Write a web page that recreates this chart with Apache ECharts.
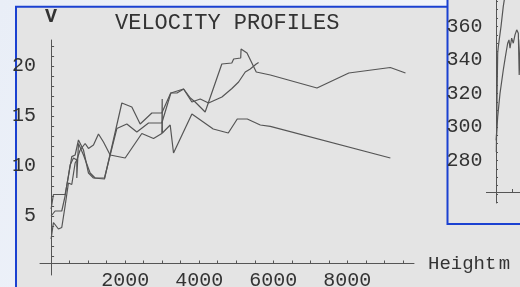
<!DOCTYPE html>
<html>
<head>
<meta charset="utf-8">
<script src="https://cdn.jsdelivr.net/npm/echarts@6/dist/echarts.min.js"></script>
<style>
  html, body { margin: 0; padding: 0; }
  #chart { width: 520px; height: 287px; }
</style>
</head>
<body>
<div id="chart"></div>
<script>
// velocity profiles: [height m, V]
const profileA = [[0, 5.7], [63, 7.15], [378, 7.15], [468, 8.96], [558, 10.94], [649, 11.1], [739, 12.6],
  [874, 11.6], [1009, 9.3], [1144, 8.8], [1441, 8.7], [1910, 16.3], [2180, 15.9], [2405, 14.2], [2721, 15.3],
  [2990, 15.3], [3230, 17.3], [3400, 17.3], [3580, 17.7], [3760, 16.8], [3890, 16.4], [4160, 15.4],
  [4610, 20.2], [4880, 20.3], [4930, 20.7], [5120, 20.8], [5130, 21.7], [5290, 21.3], [5540, 19.4],
  [5920, 19.1], [7180, 17.8], [8040, 19.3], [9160, 19.85], [9570, 19.3]];
const profileB = [[0, 5.0], [108, 5.5], [288, 5.5], [378, 7.0], [513, 10.1], [604, 10.8], [694, 10.6],
  [694, 8.8], [739, 12.25], [874, 11.1], [1054, 9.3], [1189, 8.8], [1441, 8.8], [1595, 11.1], [1775, 13.75],
  [2045, 14.2], [2315, 13.4], [2631, 14.3], [2990, 14.3], [3234, 17.3], [3576, 17.7], [3802, 16.4],
  [4027, 16.7], [4252, 16.3], [4613, 16.9], [4883, 17.75], [5063, 18.4], [5243, 19.4], [5378, 19.7],
  [5540, 20.2], [5603, 20.35]];
const profileC = [[0, 2.7], [63, 4.35], [198, 3.7], [288, 3.85], [378, 6.0], [468, 8.3], [558, 8.15],
  [649, 10.3], [694, 10.6], [784, 11.6], [919, 12.25], [1009, 11.76], [1144, 12.1], [1279, 13.2],
  [1414, 12.4], [1595, 11.1], [2000, 10.8], [2450, 13.25], [2766, 12.75], [2990, 13.25], [3000, 16.7],
  [3005, 13.3], [3216, 14.1], [3306, 11.3], [3802, 15.2], [4378, 13.7], [4784, 13.3], [5027, 14.7],
  [5297, 14.7], [5649, 14.1], [5919, 13.96], [9162, 10.8]];

// inset (partly hidden on the right)
const insetA = [[40, 285], [125, 316], [210, 344], [290, 348], [625, 360], [910, 372], [1040, 376], [1250, 386]];
const insetB = [[20, 292], [210, 306], [500, 320], [910, 334], [1210, 343], [1460, 350], [1625, 352],
  [1750, 347], [1960, 353], [2160, 350], [2375, 355], [2590, 358], [2790, 356], [2900, 331], [3050, 352], [3300, 356]];

const xTicks = [500, 1000, 1500, 2000, 2500, 3000, 3500, 4000, 4500, 5000, 5500, 6000, 6500, 7000, 7500,
  8000, 8500, 9000, 9500];
const xLabels = [2000, 4000, 6000, 8000];
const yTicks = [1, 2, 3, 4, 5, 6, 7, 8, 9, 10, 11, 12, 13, 14, 15, 16, 17, 18, 19, 20, 21, 22];
const yLabels = [5, 10, 15, 20];
const insetXTicks = [2000, 4000, 6000, 8000];
const insetYTicks = [255, 260, 265, 270, 275, 280, 285, 290, 295, 300, 305, 310, 315, 320, 325, 330, 335,
  340, 345, 350, 355, 360, 365, 370, 375, 380, 385, 390, 395];
const insetYLabels = [280, 300, 320, 340, 360];

const FONT = '"Liberation Mono", "DejaVu Sans Mono", monospace';
const INK = '#333';
const AXIS = '#555';
const LINE = '#555';
const PANEL = '#e4e4e4';
const BLUE = '#1b41d1';

const plain = (v) => String(v); // no thousands separator

const chart = echarts.init(document.getElementById('chart'), null, { renderer: 'canvas' });

const lineSeries = (data, xi) => ({
  type: 'line', data, xAxisIndex: xi, yAxisIndex: xi,
  showSymbol: false, symbol: 'none', animation: false, silent: true,
  lineStyle: { color: LINE, width: 1.2 }
});

chart.setOption({
  animation: false,
  backgroundColor: {
    type: 'linear', x: 0, y: 0, x2: 1, y2: 1,
    colorStops: [{ offset: 0, color: '#e9eef7' }, { offset: 1, color: '#f4f7fc' }]
  },
  graphic: [
    { type: 'rect', z: -10, silent: true, shape: { x: 16, y: 6.7, width: 600, height: 400 },
      style: { fill: PANEL, stroke: BLUE, lineWidth: 2 } },
    { type: 'rect', z: -9, silent: true, shape: { x: 447.5, y: -40, width: 150, height: 264 },
      style: { fill: PANEL, stroke: BLUE, lineWidth: 2 } }
  ],
  title: {
    text: 'VELOCITY PROFILES', left: 110, top: 7,
    textStyle: { fontFamily: FONT, fontSize: 22, fontWeight: 'normal', color: INK }
  },
  grid: [
    { left: 40, top: 40, width: 374, height: 235, outerBoundsMode: 'none', containLabel: false },
    { left: 486.4, top: -40.5, width: 89.6, height: 243.5, outerBoundsMode: 'none', containLabel: false }
  ],
  xAxis: [
    {
      type: 'value', gridIndex: 0, min: -300, max: 9800,
      position: 'bottom', offset: -11.5,
      axisLine: { onZero: false, lineStyle: { color: AXIS, width: 1 } },
      axisTick: { inside: true, length: 3, customValues: xTicks, lineStyle: { color: AXIS } },
      axisLabel: { customValues: xLabels, formatter: plain, margin: 7, fontFamily: FONT, fontSize: 20, color: INK },
      splitLine: { show: false },
      name: '{h|Height}{s| }{h|m}', nameLocation: 'end', nameGap: 14,
      nameTextStyle: { rich: { h: { fontFamily: FONT, fontSize: 19, color: INK }, s: { fontFamily: FONT, fontSize: 4 } } }
    },
    {
      type: 'value', gridIndex: 1, min: -1200, max: 10000,
      position: 'bottom', offset: -11,
      axisLine: { onZero: false, lineStyle: { color: AXIS, width: 1 } },
      axisTick: { inside: true, length: 3, customValues: insetXTicks, lineStyle: { color: AXIS } },
      axisLabel: { show: false },
      splitLine: { show: false }
    }
  ],
  yAxis: [
    {
      type: 'value', gridIndex: 0, min: -0.9, max: 22.6,
      axisLine: { onZero: true, lineStyle: { color: AXIS, width: 1 } },
      axisTick: { inside: true, length: 3, customValues: yTicks, lineStyle: { color: AXIS } },
      axisLabel: { customValues: yLabels, margin: 4, fontFamily: FONT, fontSize: 20, color: INK },
      splitLine: { show: false },
      name: 'V', nameLocation: 'end', nameGap: 13,
      nameTextStyle: { fontFamily: FONT, fontSize: 20, fontWeight: 'bold', color: INK }
    },
    {
      type: 'value', gridIndex: 1, min: 254.6, max: 400,
      axisLine: { onZero: true, lineStyle: { color: AXIS, width: 1 } },
      axisTick: { inside: true, length: 2, customValues: insetYTicks, lineStyle: { color: AXIS } },
      axisLabel: { customValues: insetYLabels, margin: 4, fontFamily: FONT, fontSize: 20, color: INK },
      splitLine: { show: false }
    }
  ],
  series: [
    lineSeries(profileA, 0),
    lineSeries(profileB, 0),
    lineSeries(profileC, 0),
    lineSeries(insetA, 1),
    lineSeries(insetB, 1)
  ]
});
</script>
</body>
</html>
